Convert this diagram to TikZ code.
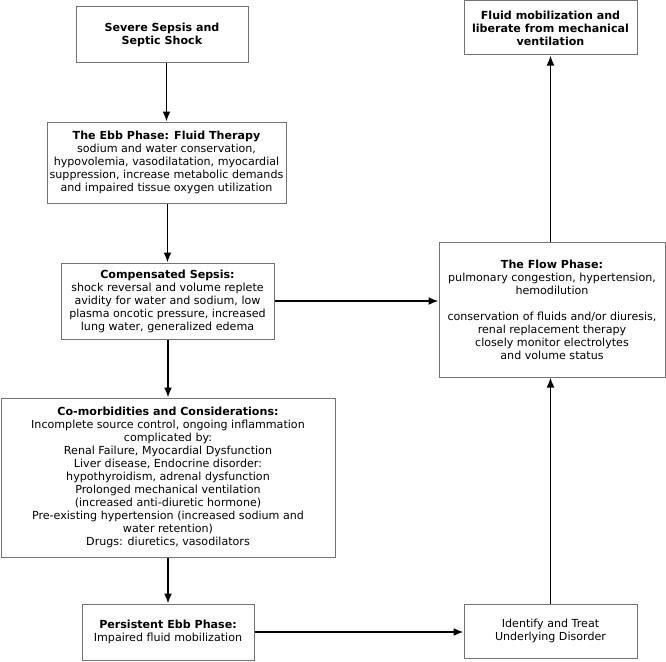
\documentclass[tikz,border=0pt]{standalone}
\usepackage{fontspec}
\setmainfont{DejaVu Sans}
\usetikzlibrary{arrows.meta}
\begin{document}
\begin{tikzpicture}[x=1pt,y=-1pt,
  box/.style={draw=black!55,line width=1pt,align=center,inner sep=0pt,
    font=\fontsize{11.1}{13}\selectfont},
  conn/.style={line width=1.7pt,-{Latex[length=10pt,width=8pt]}}]
\useasboundingbox (0,0) rectangle (666,661);
\node[box,minimum width=172pt,minimum height=56pt] (n1) at (162,35)
  {\textbf{Severe Sepsis and}\\\textbf{Septic Shock}};
\node[box,minimum width=239pt,minimum height=81pt] (n2) at (166.5,162.5)
  {\textbf{The Ebb Phase: Fluid Therapy}\\sodium and water conservation,\\hypovolemia, vasodilatation, myocardial\\suppression, increase metabolic demands\\and impaired tissue oxygen utilization};
\node[box,minimum width=213pt,minimum height=76pt] (n3) at (167.5,301)
  {\textbf{Compensated Sepsis:}\\shock reversal and volume replete\\avidity for water and sodium, low\\plasma oncotic pressure, increased\\lung water, generalized edema};
\node[box,minimum width=334pt,minimum height=159pt] (n4) at (168,477.5)
  {\textbf{Co-morbidities and Considerations:}\\Incomplete source control, ongoing inflammation\\complicated by:\\Renal Failure, Myocardial Dysfunction\\Liver disease, Endocrine disorder:\\hypothyroidism, adrenal dysfunction\\Prolonged mechanical ventilation\\(increased anti-diuretic hormone)\\Pre-existing hypertension (increased sodium and\\water retention)\\Drugs: diuretics, vasodilators};
\node[box,minimum width=172pt,minimum height=56pt] (n5) at (168,632)
  {\textbf{Persistent Ebb Phase:}\\Impaired fluid mobilization};
\node[box,minimum width=173pt,minimum height=54pt] (n6) at (550.5,28)
  {\textbf{Fluid mobilization and}\\\textbf{liberate from mechanical}\\\textbf{ventilation}};
\node[box,minimum width=226pt,minimum height=135pt] (n7) at (552,309.5)
  {\textbf{The Flow Phase:}\\pulmonary congestion, hypertension,\\hemodilution\\[13pt]conservation of fluids and/or diuresis,\\renal replacement therapy\\closely monitor electrolytes\\and volume status};
\node[box,minimum width=173pt,minimum height=54pt] (n8) at (550.5,631)
  {Identify and Treat\\Underlying Disorder};
\draw[conn] (n2.north |- n1.south) -- (n2.north);
\draw[conn] (n2.south -| n3.north) -- (n3.north);
\draw[conn] (n3.south -| n4.north) -- (n4.north);
\draw[conn] (n4.south) -- (n5.north);
\draw[conn] (n3.east) -- (n7.west |- n3.east);
\draw[conn] (n5.east) -- (n8.west |- n5.east);
\draw[conn] (n8.north) -- (n8.north |- n7.south);
\draw[conn] (n6.south |- n7.north) -- (n6.south);
\end{tikzpicture}
\end{document}
